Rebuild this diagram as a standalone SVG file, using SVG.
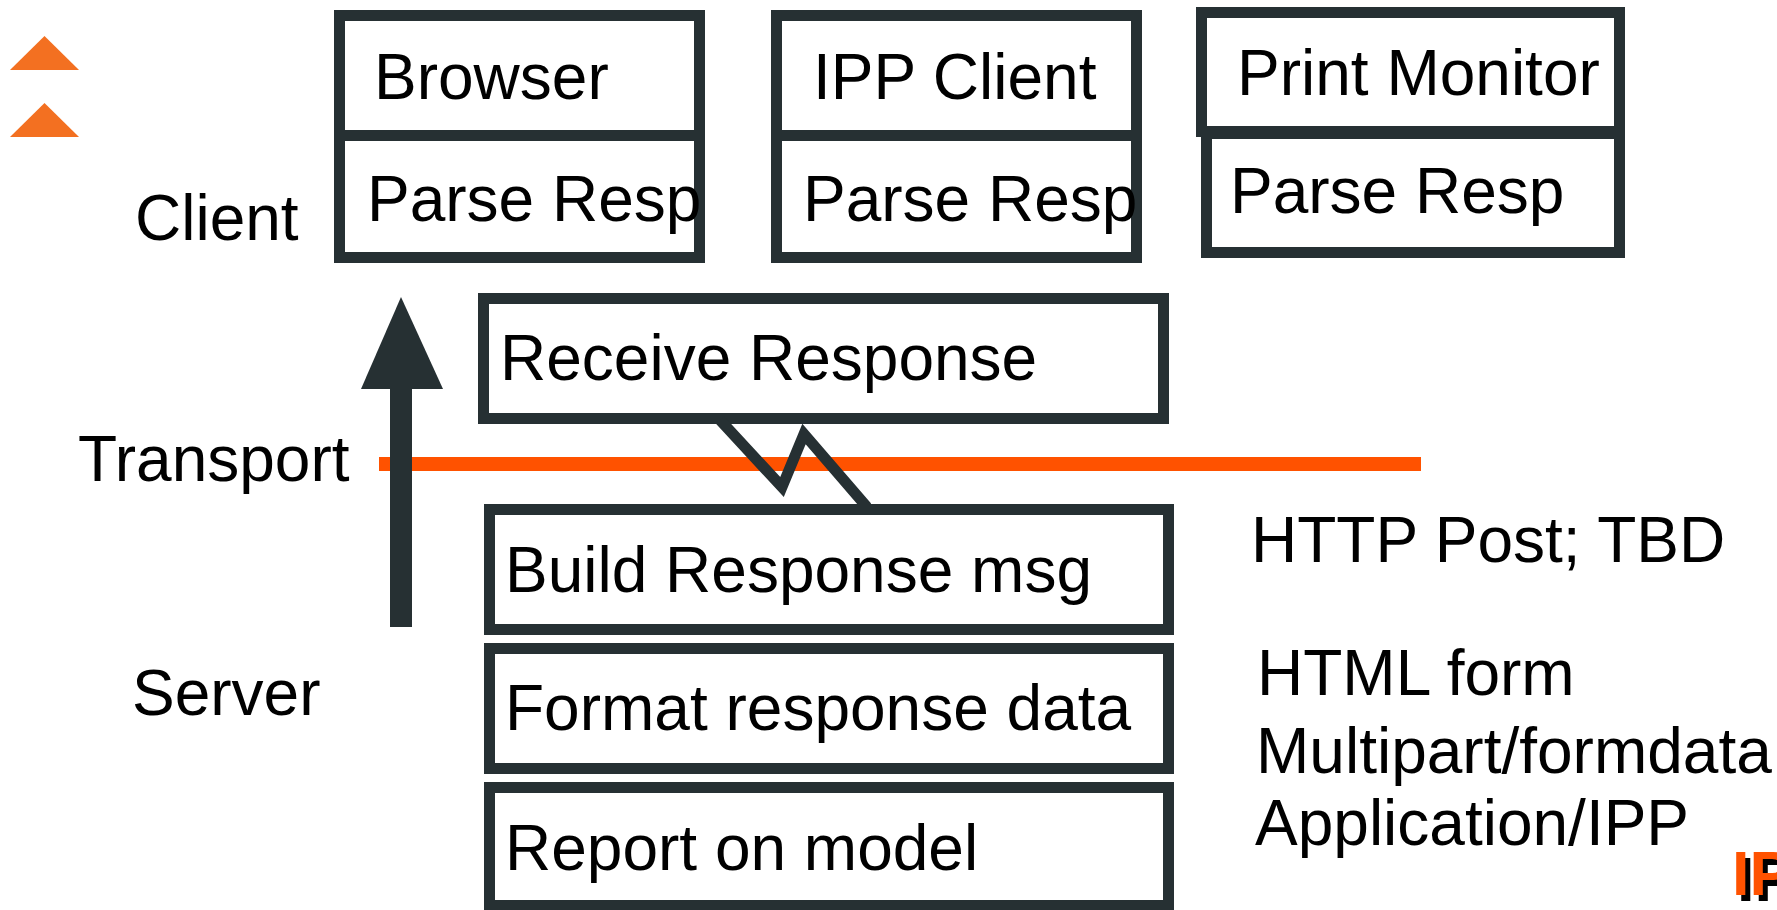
<svg xmlns="http://www.w3.org/2000/svg" width="1777" height="910" viewBox="0 0 1777 910">
<style>
.box{fill:#ffffff;stroke:#263033;stroke-width:11}
.t{font-family:"Liberation Sans",Arial,sans-serif;font-size:64px;fill:#000000}
.logo{font-family:"Liberation Sans",Arial,sans-serif;font-size:63px;font-weight:bold}
</style>
<rect width="1777" height="910" fill="#ffffff"/>
<g id="bullets" fill="#f37021">
<polygon points="10,70 44.5,36 79,70"/>
<polygon points="10,137 44.5,103 79,137"/>
</g>
<g id="layer-labels">
<text class="t" x="135" y="240">Client</text>
<text class="t" x="78" y="481">Transport</text>
<text class="t" x="132" y="715">Server</text>
</g>
<g id="transport-line">
<rect x="379" y="457" width="1042" height="14" fill="#ff5200"/>
</g>
<g id="browser">
<rect class="box" x="339.5" y="15.5" width="360" height="123"/>
<rect class="box" x="339.5" y="135.5" width="360" height="122"/>
<text class="t" x="374" y="99">Browser</text>
<text class="t" x="367" y="221">Parse Resp</text>
</g>
<g id="ipp-client">
<rect class="box" x="776.5" y="15.5" width="360" height="123"/>
<rect class="box" x="776.5" y="135.5" width="360" height="122"/>
<text class="t" x="813" y="99">IPP Client</text>
<text class="t" x="803" y="221">Parse Resp</text>
</g>
<g id="print-monitor">
<rect class="box" x="1201.5" y="12.5" width="418" height="119"/>
<rect class="box" x="1206.5" y="133.5" width="413" height="119"/>
<text class="t" x="1237" y="95">Print Monitor</text>
<text class="t" x="1230" y="213">Parse Resp</text>
</g>
<g id="receive-response">
<rect class="box" x="483.5" y="298.5" width="680" height="120"/>
<text class="t" x="500" y="380">Receive Response</text>
</g>
<g id="connectors">
<rect x="390" y="385" width="22" height="242" fill="#263033"/>
<polygon points="401,297 361,389 443,389" fill="#263033"/>
<polyline points="720,420 782,487 804,434 867,507" fill="none" stroke="#263033" stroke-width="11"/>
</g>
<g id="build-response">
<rect class="box" x="489.5" y="509.5" width="679" height="120"/>
<text class="t" x="505" y="592">Build Response msg</text>
</g>
<g id="format-response">
<rect class="box" x="489.5" y="648.5" width="679" height="120"/>
<text class="t" x="505" y="730">Format response data</text>
</g>
<g id="report-model">
<rect class="box" x="489.5" y="787.5" width="679" height="118"/>
<text class="t" x="505" y="870">Report on model</text>
</g>
<g id="notes">
<text class="t" x="1251" y="562">HTTP Post; TBD</text>
<text class="t" x="1257" y="695">HTML form</text>
<text class="t" x="1256" y="773">Multipart/formdata</text>
<text class="t" x="1255" y="845">Application/IPP</text>
</g>
<g id="ipp-logo">
<text class="logo" x="1737" y="901" fill="#000000">IPP</text>
<text class="logo" x="1732" y="895" fill="#ff5200">IPP</text>
</g>
</svg>
